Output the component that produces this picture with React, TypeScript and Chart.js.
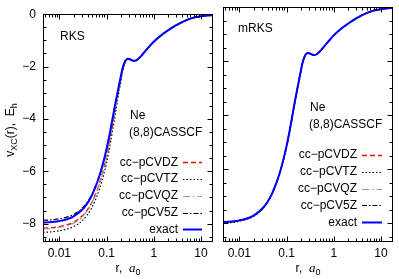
import React, { useEffect, useRef } from "react";
import { Chart, registerables } from "chart.js";

Chart.register(...registerables);

// ---------- data ----------
const radius = [0.0045, 0.006, 0.008, 0.01, 0.015, 0.02, 0.03, 0.04, 0.05, 0.06, 0.07, 0.08, 0.1, 0.12, 0.15, 0.18, 0.2, 0.22, 0.25, 0.28, 0.3, 0.35, 0.4, 0.5, 0.6, 0.8, 1, 1.5, 2, 3, 4, 6, 8, 10, 14, 18];

const exactV = [-7.96, -7.95, -7.93, -7.9, -7.82, -7.72, -7.48, -7.2, -6.88, -6.54, -6.2, -5.85, -5.15, -4.45, -3.5, -2.78, -2.38, -2.04, -1.78, -1.7, -1.71, -1.77, -1.78, -1.66, -1.5, -1.24, -1.05, -0.78, -0.62, -0.42, -0.3, -0.17, -0.11, -0.08, -0.05, -0.035];

const rksDZ = [-8.17, -8.16, -8.14, -8.11, -8.04, -7.95, -7.72, -7.45, -7.15, -6.82, -6.48, -6.14, -5.45, -4.72, -3.72, -2.92, -2.48, -2.1, -1.8, -1.71, -1.71, -1.77, -1.78, -1.66, -1.5, -1.24, -1.05, -0.78, -0.62, -0.42, -0.3, -0.17, -0.11, -0.08, -0.05, -0.035];
const rksTZ = [-8.33, -8.32, -8.3, -8.27, -8.2, -8.11, -7.9, -7.64, -7.35, -7.03, -6.7, -6.36, -5.68, -4.95, -3.92, -3.05, -2.58, -2.16, -1.83, -1.72, -1.71, -1.77, -1.78, -1.66, -1.5, -1.24, -1.05, -0.78, -0.62, -0.42, -0.3, -0.17, -0.11, -0.08, -0.05, -0.035];
const rksQZ = [-8.2, -8.19, -8.17, -8.14, -8.07, -7.98, -7.75, -7.47, -7.17, -6.84, -6.5, -6.16, -5.47, -4.74, -3.74, -2.94, -2.5, -2.12, -1.81, -1.71, -1.71, -1.77, -1.78, -1.66, -1.5, -1.24, -1.05, -0.78, -0.62, -0.42, -0.3, -0.17, -0.11, -0.08, -0.05, -0.035];
const rks5Z = [-7.87, -7.86, -7.84, -7.81, -7.74, -7.65, -7.42, -7.15, -6.84, -6.5, -6.17, -5.83, -5.14, -4.45, -3.5, -2.78, -2.38, -2.04, -1.78, -1.7, -1.71, -1.77, -1.78, -1.66, -1.5, -1.24, -1.05, -0.78, -0.62, -0.42, -0.3, -0.17, -0.11, -0.08, -0.05, -0.035];

const mrksDZ = [-7.97, -7.96, -7.94, -7.91, -7.83, -7.73, -7.49, -7.21, -6.89, -6.55, -6.21, -5.86, -5.16, -4.46, -3.51, -2.79, -2.39, -2.05, -1.78, -1.7, -1.71, -1.75, -1.76, -1.66, -1.5, -1.24, -1.05, -0.78, -0.62, -0.42, -0.3, -0.17, -0.11, -0.08, -0.05, -0.035];
const mrksTZ = [-8.0, -7.99, -7.97, -7.93, -7.85, -7.75, -7.5, -7.22, -6.9, -6.56, -6.22, -5.87, -5.17, -4.46, -3.51, -2.79, -2.38, -2.04, -1.78, -1.7, -1.71, -1.77, -1.78, -1.66, -1.5, -1.24, -1.05, -0.78, -0.62, -0.42, -0.3, -0.17, -0.11, -0.08, -0.05, -0.035];
const mrksQZ = [-7.97, -7.96, -7.94, -7.9, -7.82, -7.72, -7.48, -7.2, -6.88, -6.54, -6.2, -5.85, -5.15, -4.45, -3.5, -2.78, -2.38, -2.04, -1.78, -1.7, -1.71, -1.77, -1.78, -1.66, -1.5, -1.24, -1.05, -0.78, -0.62, -0.42, -0.3, -0.17, -0.11, -0.08, -0.05, -0.035];
const mrks5Z = [-7.96, -7.95, -7.93, -7.9, -7.82, -7.72, -7.48, -7.2, -6.88, -6.54, -6.2, -5.85, -5.15, -4.45, -3.5, -2.78, -2.38, -2.04, -1.78, -1.7, -1.71, -1.77, -1.78, -1.66, -1.5, -1.24, -1.05, -0.78, -0.62, -0.42, -0.3, -0.17, -0.11, -0.08, -0.05, -0.035];

const seriesLabels = ["cc−pCVDZ", "cc−pCVTZ", "cc−pCVQZ", "cc−pCV5Z", "exact"];
const xTickValues = [0.01, 0.1, 1, 10];
const xTickLabels = ["0.01", "0.1", "1", "10"];
const yTickValues = [0, -2, -4, -6, -8];
const yTickLabels = ["0", "−2", "−4", "−6", "−8"];
const panelTitles = ["RKS", "mRKS"];
const noteLines = ["Ne", "(8,8)CASSCF"];

// ---------- styles ----------
const FONT = '"Liberation Sans", Arial, Helvetica, sans-serif';
const SERIF = '"Liberation Serif", "Times New Roman", serif';
const lineStyles = [
  { color: "#ff0000", dash: [5, 3], width: 1.3 },
  { color: "#000000", dash: [1.5, 2], width: 1.2 },
  { color: "#999999", dash: [7, 3, 1.5, 3], width: 1.2 },
  { color: "#000000", dash: [5, 2, 1.5, 2], width: 1.2 },
  { color: "#0000ff", dash: [] as number[], width: 2 },
];
const X_MIN = 0.0045;
const X_MAX = 18;
const Y_MIN = -8.7;
const Y_MAX = 0;

const decoPlugin = {
  id: "deco",
  afterDraw(chart: any, _args: any, opts: any) {
    const ctx = chart.ctx as CanvasRenderingContext2D;
    const a = chart.chartArea;
    const xs = chart.scales.x;
    const ys = chart.scales.y;
    ctx.save();
    // frame
    ctx.strokeStyle = "#000";
    ctx.lineWidth = 1;
    ctx.setLineDash([]);
    const L = Math.round(a.left) + 0.5, R = Math.round(a.right) - 0.5;
    const T = Math.round(a.top) + 0.5, B = Math.round(a.bottom) - 0.5;
    ctx.strokeRect(L, T, R - L, B - T);
    // x ticks
    ctx.beginPath();
    for (let d = -3; d <= 1; d++) {
      for (let m = 1; m <= 9; m++) {
        const v = m * Math.pow(10, d);
        if (v < X_MIN || v > X_MAX) continue;
        const px = Math.round(xs.getPixelForValue(v)) + 0.5;
        const len = m === 1 ? 5 : 3;
        ctx.moveTo(px, B); ctx.lineTo(px, B - len);
        ctx.moveTo(px, T); ctx.lineTo(px, T + len);
      }
    }
    // y ticks
    for (let v = 0; v >= Y_MIN; v -= 0.5) {
      const py = Math.round(ys.getPixelForValue(v)) + 0.5;
      const len = Math.abs(v % 2) < 1e-6 ? 5 : 3;
      ctx.moveTo(L, py); ctx.lineTo(L + len, py);
      ctx.moveTo(R, py); ctx.lineTo(R - len, py);
    }
    ctx.stroke();

    ctx.fillStyle = "#000";
    ctx.textBaseline = "middle";
    ctx.textAlign = "left";
    ctx.font = `12px ${FONT}`;
    // panel title and notes
    ctx.fillText(opts.title, a.left + opts.titleDx, a.top + 22);
    ctx.fillText(noteLines[0], a.left + 87, a.top + 101);
    ctx.fillText(noteLines[1], a.left + 86, a.top + 118);

    // legend
    seriesLabels.forEach((lab, i) => {
      const y = a.top + 148 + i * 16.8;
      ctx.textAlign = "right";
      ctx.fillStyle = "#000";
      ctx.fillText(lab, a.right - opts.legendTextGap, y);
      const st = lineStyles[i];
      ctx.beginPath();
      ctx.strokeStyle = st.color;
      ctx.lineWidth = st.width;
      ctx.setLineDash(st.dash);
      ctx.moveTo(a.right - opts.legendTextGap + 5, Math.round(y) + 0.5);
      ctx.lineTo(a.right - 11, Math.round(y) + 0.5);
      ctx.stroke();
    });
    ctx.setLineDash([]);

    // x axis title: r,  a0
    ctx.textBaseline = "alphabetic";
    ctx.textAlign = "left";
    ctx.fillStyle = "#000";
    const cx = (a.left + a.right) / 2;
    const p1 = "r,  ";
    ctx.font = `12px ${FONT}`;
    const w1 = ctx.measureText(p1).width;
    ctx.font = `italic 13px ${SERIF}`;
    const w2 = ctx.measureText("a").width;
    ctx.font = `9px ${FONT}`;
    const w3 = ctx.measureText("0").width;
    let x0 = cx - (w1 + w2 + w3) / 2;
    const by = 272;
    ctx.font = `12px ${FONT}`;
    ctx.fillText(p1, x0, by);
    x0 += w1;
    ctx.font = `italic 13px ${SERIF}`;
    ctx.fillText("a", x0, by);
    x0 += w2;
    ctx.font = `9px ${FONT}`;
    ctx.fillText("0", x0, by + 3);

    // y axis title
    if (opts.yTitle) {
      const pieces = [
        { t: "v", f: `12px ${FONT}`, dy: 0 },
        { t: "XC", f: `9px ${FONT}`, dy: 3 },
        { t: "(r),  E", f: `12px ${FONT}`, dy: 0 },
        { t: "h", f: `9px ${FONT}`, dy: 3 },
      ];
      let total = 0;
      const widths = pieces.map((p) => { ctx.font = p.f; const w = ctx.measureText(p.t).width; total += w; return w; });
      ctx.translate(14, (a.top + a.bottom) / 2 + 2);
      ctx.rotate(-Math.PI / 2);
      let tx = -total / 2;
      pieces.forEach((p, i) => {
        ctx.font = p.f;
        ctx.fillText(p.t, tx, p.dy);
        tx += widths[i];
      });
    }
    ctx.restore();
  },
};

function makeDatasets(series: number[][]) {
  return series.map((vals, i) => ({
    label: seriesLabels[i],
    data: radius.map((r, k) => ({ x: r, y: vals[k] })),
    borderColor: lineStyles[i].color,
    borderWidth: lineStyles[i].width,
    borderDash: lineStyles[i].dash,
    pointRadius: 0,
    fill: false,
    cubicInterpolationMode: "monotone" as const,
    order: i === 4 ? 0 : 5 - i,
  }));
}

function Panel(props: { series: number[][]; left: number; width: number; showY: boolean; title: string; titleDx: number; legendGap: number; padLeft: number; padRight: number }) {
  const ref = useRef<HTMLCanvasElement | null>(null);
  useEffect(() => {
    if (!ref.current) return;
    const chart = new Chart(ref.current, {
      type: "line",
      data: { datasets: makeDatasets(props.series) as any },
      options: {
        animation: false,
        responsive: false,
        maintainAspectRatio: false,
        devicePixelRatio: 1,
        layout: { padding: { top: 7, right: props.padRight, left: props.padLeft, bottom: 0 } },
        plugins: {
          legend: { display: false },
          tooltip: { enabled: false },
          deco: { title: props.title, titleDx: props.titleDx, legendTextGap: props.legendGap, yTitle: props.showY },
        } as any,
        scales: {
          x: {
            type: "logarithmic",
            min: X_MIN,
            max: X_MAX,
            grid: { display: false, drawTicks: false },
            border: { display: false },
            afterBuildTicks: (s: any) => { s.ticks = xTickValues.map((v) => ({ value: v })); },
            afterFit: (s: any) => { s.height = 37; },
            ticks: {
              autoSkip: false,
              maxRotation: 0,
              padding: 4,
              color: "#000",
              font: { family: FONT, size: 12 },
              callback: (_v: any, i: number) => xTickLabels[i],
            },
          },
          y: {
            type: "linear",
            min: Y_MIN,
            max: Y_MAX,
            grid: { display: false, drawTicks: false },
            border: { display: false },
            afterBuildTicks: (s: any) => { s.ticks = yTickValues.map((v) => ({ value: v })); },
            afterFit: (s: any) => { s.width = props.showY ? 43 : 0; },
            ticks: {
              display: props.showY,
              padding: 7,
              color: "#000",
              font: { family: FONT, size: 12 },
              callback: (_v: any, i: number) => yTickLabels[i],
            },
          },
        },
      } as any,
      plugins: [decoPlugin],
    });
    return () => chart.destroy();
  }, []);
  return (
    <canvas
      ref={ref}
      width={props.width}
      height={279}
      style={{ position: "absolute", left: props.left, top: 0, width: props.width, height: 279 }}
    />
  );
}

export default function App() {
  return (
    <div style={{ position: "absolute", left: 0, top: 0, width: 399, height: 279, background: "#fff", overflow: "hidden" }}>
      <Panel series={[rksDZ, rksTZ, rksQZ, rks5Z, exactV]} left={0} width={218} showY={true} title={panelTitles[0]} titleDx={17} legendGap={35} padLeft={0} padRight={5} />
      <Panel series={[mrksDZ, mrksTZ, mrksQZ, mrks5Z, exactV]} left={218} width={181} showY={false} title={panelTitles[1]} titleDx={15} legendGap={36} padLeft={5} padRight={6} />
    </div>
  );
}
